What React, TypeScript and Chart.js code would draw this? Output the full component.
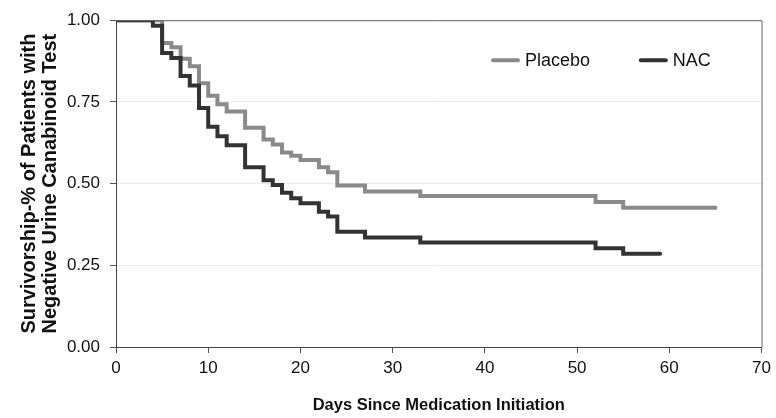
import React, { useEffect, useRef } from "react";
import { Chart, registerables } from "chart.js";

Chart.register(...registerables);

const placeboDays = [0, 5, 6, 7, 8, 9, 10, 11, 12, 14, 16, 17, 18, 19, 20, 22, 23, 24, 27, 33, 52, 55, 65];
const placeboSurv = [1.0, 0.93, 0.917, 0.882, 0.859, 0.807, 0.769, 0.743, 0.721, 0.671, 0.635, 0.62, 0.595, 0.585, 0.572, 0.55, 0.535, 0.494, 0.476, 0.462, 0.444, 0.426, 0.426];
const nacDays = [0, 4, 5, 6, 7, 8, 9, 10, 11, 12, 14, 16, 17, 18, 19, 20, 22, 23, 24, 27, 33, 52, 55, 59];
const nacSurv = [1.0, 0.983, 0.9, 0.884, 0.829, 0.8, 0.731, 0.674, 0.645, 0.617, 0.55, 0.51, 0.496, 0.472, 0.455, 0.44, 0.414, 0.399, 0.353, 0.335, 0.32, 0.302, 0.285, 0.285];
const seriesLabels = ["Placebo", "NAC"];
const xTitle = "Days Since Medication Initiation";
const yTitle = ["Survivorship-% of Patients with", "Negative Urine Canabinoid Test"];

const PLACEBO_COLOR = "#8a8a8a";
const NAC_COLOR = "#333333";
const FONT = "'Liberation Sans', Arial, sans-serif";

const frameAndLegend = {
  id: "frameAndLegend",
  afterDatasetsDraw(chart: any) {
    const { ctx, chartArea } = chart;
    const { left, right, top, bottom } = chartArea;
    ctx.save();
    ctx.strokeStyle = "#666666";
    ctx.lineWidth = 1;
    ctx.beginPath();
    ctx.moveTo(left, top + 0.5);
    ctx.lineTo(right + 0.5, top + 0.5);
    ctx.lineTo(right + 0.5, bottom);
    ctx.stroke();
    // legend
    const items = chart.data.datasets.map((d: any) => ({ label: d.label, color: d.borderColor }));
    const w = right - left;
    const positions = [left + w * 0.584, left + w * 0.813];
    const ly = top + 40;
    ctx.font = `18px ${FONT}`;
    ctx.textBaseline = "middle";
    ctx.textAlign = "left";
    items.forEach((it: any, i: number) => {
      const x0 = positions[i];
      ctx.strokeStyle = it.color;
      ctx.lineWidth = 4;
      ctx.lineCap = "round";
      ctx.beginPath();
      ctx.moveTo(x0, ly);
      ctx.lineTo(x0 + 25, ly);
      ctx.stroke();
      ctx.fillStyle = "#111111";
      ctx.fillText(it.label, x0 + 32, ly + 1);
    });
    ctx.restore();
  },
};

export default function App() {
  const ref = useRef<HTMLCanvasElement | null>(null);
  useEffect(() => {
    document.body.style.margin = "0";
    const canvas = ref.current!;
    const chart = new Chart(canvas, {
      type: "line",
      data: {
        datasets: [
          {
            label: seriesLabels[0],
            data: placeboDays.map((d, i) => ({ x: d, y: placeboSurv[i] })),
            borderColor: PLACEBO_COLOR,
            borderWidth: 4,
            stepped: "before",
            pointRadius: 0,
            fill: false,
            clip: 0,
            borderJoinStyle: "miter",
            borderCapStyle: "round",
            order: 1,
          },
          {
            label: seriesLabels[1],
            data: nacDays.map((d, i) => ({ x: d, y: nacSurv[i] })),
            borderColor: NAC_COLOR,
            borderWidth: 4,
            stepped: "before",
            pointRadius: 0,
            fill: false,
            clip: 0,
            borderJoinStyle: "miter",
            borderCapStyle: "round",
            order: 0,
          },
        ],
      },
      options: {
        responsive: false,
        animation: false,
        layout: { padding: { top: 16, right: 10, left: 0, bottom: 0 } },
        plugins: { legend: { display: false }, tooltip: { enabled: false } },
        scales: {
          x: {
            type: "linear",
            min: 0,
            max: 70,
            afterFit: (s: any) => { s.height = 71; },
            ticks: { stepSize: 10, color: "#111111", font: { family: FONT, size: 17 }, padding: 5, maxRotation: 0 },
            grid: { drawOnChartArea: false, drawTicks: true, tickLength: 6, tickColor: "#555555" },
            border: { display: true, color: "#444444", width: 1 },
            title: { display: true, text: xTitle, color: "#111111", font: { family: FONT, size: 16.5, weight: "bold" }, padding: { top: 4, bottom: 3 } },
          },
          y: {
            type: "linear",
            min: 0,
            max: 1,
            afterFit: (s: any) => { s.width = 116; },
            ticks: { stepSize: 0.25, color: "#111111", font: { family: FONT, size: 17 }, padding: 10, callback: (v: any) => Number(v).toFixed(2) },
            grid: { color: "#ebebeb", lineWidth: 1, drawTicks: true, tickLength: 6, tickColor: "#555555" },
            border: { display: true, color: "#444444", width: 1 },
            title: { display: true, text: yTitle, color: "#111111", font: { family: FONT, size: 20, weight: "bold", lineHeight: 1.05 }, padding: { top: 19, bottom: 0 } },
          },
        },
      },
      plugins: [frameAndLegend],
    });
    return () => chart.destroy();
  }, []);
  return (
    <div style={{ width: 776, height: 418 }}>
      <canvas ref={ref} width={776} height={418} style={{ display: "block" }} />
    </div>
  );
}
